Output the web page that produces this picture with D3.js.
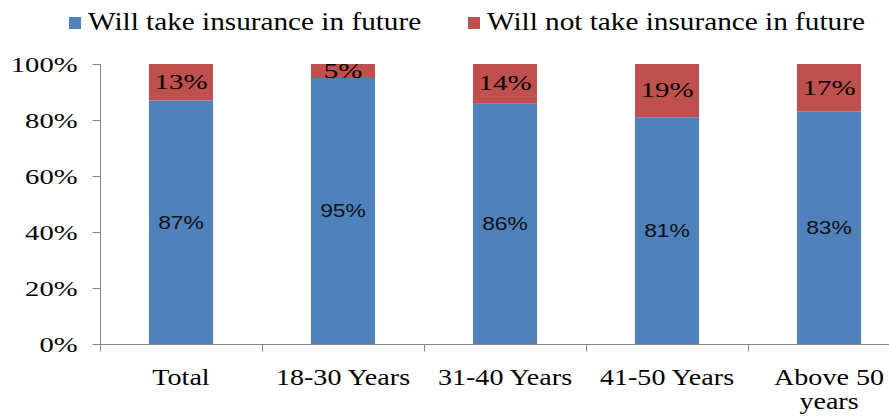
<!DOCTYPE html>
<html>
<head>
<meta charset="utf-8">
<script src="https://cdn.jsdelivr.net/npm/d3@7"></script>
<style>
  body { margin: 0; background: #fff; }
  svg { display: block; }
  .serif { font-family: "Liberation Serif", "Times New Roman", "DejaVu Serif", serif; }
  .sans { font-family: "Liberation Sans", Arial, sans-serif; }
</style>
</head>
<body>
<script>
// chart values
const categories = ["Total", "18-30 Years", "31-40 Years", "41-50 Years", "Above 50 years"];
const willTake = [87, 95, 86, 81, 83];
const willNot = [13, 5, 14, 19, 17];
const yTicks = [0, 20, 40, 60, 80, 100];
const seriesNames = ["Will take insurance in future", "Will not take insurance in future"];

const width = 889, height = 416;
const colors = ["#4F81BD", "#C0504D"];
const axisColor = "#868686";

const svg = d3.select("body").append("svg")
  .attr("width", width)
  .attr("height", height);

const x = d3.scaleBand()
  .domain(categories)
  .range([100, 910])
  .paddingInner(0.605)
  .paddingOuter(0.3025);

const y = d3.scaleLinear()
  .domain([0, 100])
  .range([344, 64]);

const rows = categories.map((c, i) => ({cat: c, take: willTake[i], not: willNot[i]}));

// bars
const g = svg.append("g");

g.selectAll("rect.take")
  .data(rows)
  .join("rect")
  .attr("class", "take")
  .attr("x", d => x(d.cat))
  .attr("width", x.bandwidth())
  .attr("y", d => y(d.take))
  .attr("height", d => y(0) - y(d.take))
  .attr("fill", colors[0]);

g.selectAll("rect.not")
  .data(rows)
  .join("rect")
  .attr("class", "not")
  .attr("x", d => x(d.cat))
  .attr("width", x.bandwidth())
  .attr("y", d => y(d.take + d.not))
  .attr("height", d => y(d.take) - y(d.take + d.not))
  .attr("fill", colors[1]);

// value labels
g.selectAll("text.take")
  .data(rows)
  .join("text")
  .attr("class", "take sans")
  .attr("text-anchor", "middle")
  .attr("dy", "0.36em")
  .attr("transform", d => `translate(${x(d.cat) + x.bandwidth() / 2},${y(d.take / 2)}) scale(1.27,1)`)
  .style("font-size", "18px")
  .attr("fill", "#111")
  .text(d => d.take + "%");

g.selectAll("text.not")
  .data(rows)
  .join("text")
  .attr("class", "not serif")
  .attr("text-anchor", "middle")
  .attr("dy", "0.34em")
  .attr("transform", d => `translate(${x(d.cat) + x.bandwidth() / 2},${y(d.take + d.not / 2)}) scale(1.45,1)`)
  .style("font-size", "20px")
  .attr("fill", "#000")
  .text(d => d.not + "%");

// y axis
const yAxis = svg.append("g")
  .attr("transform", "translate(100.5,0)")
  .call(d3.axisLeft(y).tickValues(yTicks).tickSize(8).tickFormat(d => d + "%"))
  .attr("font-family", null);

yAxis.select(".domain").attr("stroke", axisColor).attr("d", `M0,${y(100)}V${y(0) + 7}`);
yAxis.selectAll(".tick line").attr("stroke", axisColor);
yAxis.selectAll(".tick text")
  .attr("class", "serif")
  .attr("x", null)
  .attr("dy", "0.35em")
  .attr("transform", "translate(-23,0) scale(1.43,1)")
  .style("font-size", "20px")
  .attr("fill", "#000");

// x axis
const xAxis = svg.append("g")
  .attr("transform", "translate(0,344.5)");

xAxis.append("line")
  .attr("x1", 100).attr("x2", 910)
  .attr("stroke", axisColor);

xAxis.selectAll("line.tick")
  .data(d3.range(categories.length + 1))
  .join("line")
  .attr("class", "tick")
  .attr("x1", i => Math.round(x.range()[0] + i * x.step()) + 0.5)
  .attr("x2", i => Math.round(x.range()[0] + i * x.step()) + 0.5)
  .attr("y1", 0).attr("y2", 7)
  .attr("stroke", axisColor);

const catLabels = xAxis.selectAll("text.cat")
  .data(categories)
  .join("text")
  .attr("class", "cat serif")
  .attr("text-anchor", "middle")
  .attr("transform", d => `translate(${x(d) + x.bandwidth() / 2},40) scale(1.17,1)`)
  .style("font-size", "24px")
  .attr("fill", "#000");

catLabels.each(function(d) {
  const lines = d === "Above 50 years" ? ["Above 50", "years"] : [d];
  d3.select(this).selectAll("tspan")
    .data(lines)
    .join("tspan")
    .attr("x", 0)
    .attr("dy", (l, i) => i === 0 ? 0 : 25)
    .text(l => l);
});

// legend
const legendX = [69, 468];
const legend = svg.append("g");
seriesNames.forEach((name, i) => {
  legend.append("rect")
    .attr("x", legendX[i]).attr("y", 17)
    .attr("width", 12).attr("height", 12)
    .attr("fill", colors[i]);
  legend.append("text")
    .attr("class", "serif")
    .attr("transform", `translate(${legendX[i] + 19},30) scale(1.17,1)`)
    .style("font-size", "25px")
    .attr("fill", "#000")
    .text(name);
});
</script>
</body>
</html>
